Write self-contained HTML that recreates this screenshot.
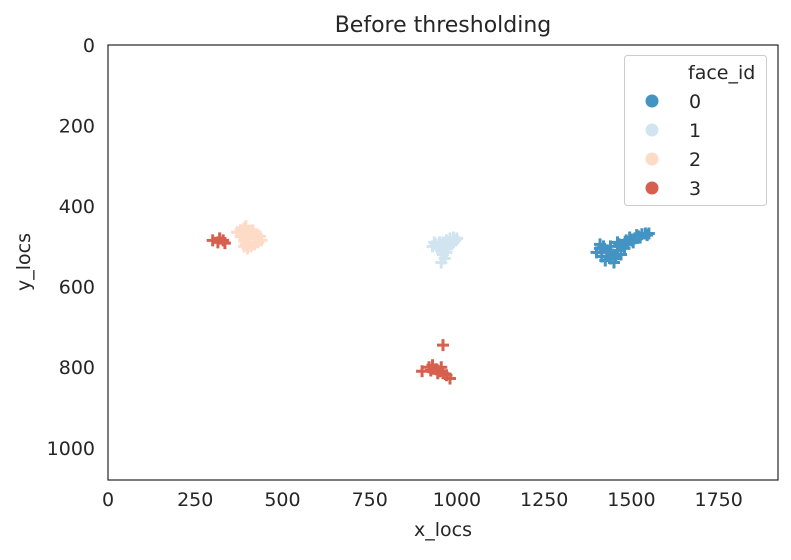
<!DOCTYPE html>
<html><head><meta charset="utf-8"><style>
body{margin:0;background:#fff;font-family:"Liberation Sans","DejaVu Sans",sans-serif;}
svg text{font-family:"DejaVu Sans","Liberation Sans",sans-serif;fill:#262626;}
</style></head><body>
<svg id="chart" width="791" height="555">
<text x="443" y="32" font-size="22" text-anchor="middle">Before thresholding</text>
<g id="marks"></g>
<rect x="108" y="45" width="670" height="435" fill="none" stroke="#262626" stroke-width="1.2"/>
<g id="axes"></g>
<text x="443" y="536" font-size="19" text-anchor="middle">x_locs</text>
<text x="30" y="262" font-size="19" text-anchor="middle" transform="rotate(-90 30 262)">y_locs</text>
<g>
<rect x="624.5" y="55.5" width="142" height="150" rx="3" fill="#fff" stroke="#ccc"/>
<text x="688" y="79" font-size="19">face_id</text>
<g id="legend"></g>
</g>
</svg>
<script>
const xTicks=[0,250,500,750,1000,1250,1500,1750];
const yTicks=[0,200,400,600,800,1000];
const colors=["#4393c3","#d1e5f0","#fddbc7","#d6604d"];
const face0X=[1400,1410,1420,1430,1415,1440,1450,1445,1460,1470,1480,1490,1500,1510,1520,1530,1540,1550,1495,1515,1470,1425,1460,1480,1505,1440,1435,1455,1465,1485,1525,1545,1410,1450];
const face0Y=[515,505,500,510,525,530,540,520,510,500,495,490,485,480,475,470,468,468,478,472,520,535,490,505,490,500,515,525,495,485,478,472,495,530];
const face1X=[930,940,950,960,970,980,990,1000,945,955,965,975,985,960,965,955,970,990,935,950,980,995];
const face1Y=[500,495,490,490,485,480,478,480,505,510,505,500,495,520,530,540,515,490,490,500,490,485];
const face2X=[380,390,400,410,380,390,400,420,430,440,410,400,395,420,370,385,405,425,415,435,395,390];
const face2Y=[460,455,465,470,475,485,490,480,490,485,500,505,495,495,465,470,480,470,460,475,450,500];
const face3X=[300,315,330,320,335,960,900,920,930,940,950,955,960,970,980,945,925];
const face3Y=[485,490,485,480,492,745,810,800,795,805,810,800,815,820,828,815,808];
const faces=[[face0X,face0Y],[face1X,face1Y],[face2X,face2Y],[face3X,face3Y]];
const NS="http://www.w3.org/2000/svg";
const sx=v=>108+v*670/1920;
const sy=v=>45+v*435/1080;
const marks=document.getElementById('marks');
faces.forEach((f,i)=>{
  f[0].forEach((x,j)=>{
    const px=sx(x),py=sy(f[1][j]);
    const p=document.createElementNS(NS,'path');
    p.setAttribute('d',`M${px-6} ${py}H${px+6}M${px} ${py-6}V${py+6}`);
    p.setAttribute('stroke',colors[i]);p.setAttribute('stroke-width','3');
    
    
    marks.appendChild(p);
  });
});
const axes=document.getElementById('axes');
xTicks.forEach(t=>{
  const tx=document.createElementNS(NS,'text');
  tx.setAttribute('x',sx(t));tx.setAttribute('y',506);tx.setAttribute('font-size','19');tx.setAttribute('text-anchor','middle');
  tx.textContent=t;
  
  
  axes.appendChild(tx);
});
yTicks.forEach(t=>{
  const tx=document.createElementNS(NS,'text');
  tx.setAttribute('x',95);tx.setAttribute('y',sy(t)+7);tx.setAttribute('font-size','19');tx.setAttribute('text-anchor','end');
  tx.textContent=t;
  
  
  axes.appendChild(tx);
});
const leg=document.getElementById('legend');
colors.forEach((c,i)=>{
  const y=101+i*29;
  const ci=document.createElementNS(NS,'circle');
  ci.setAttribute('cx',652);ci.setAttribute('cy',y);ci.setAttribute('r',6.5);ci.setAttribute('fill',c);
  
  
  leg.appendChild(ci);
  const tx=document.createElementNS(NS,'text');
  tx.setAttribute('x',689);tx.setAttribute('y',y+7);tx.setAttribute('font-size','19');
  tx.textContent=i;
  
  
  leg.appendChild(tx);
});
</script>
</body></html>
